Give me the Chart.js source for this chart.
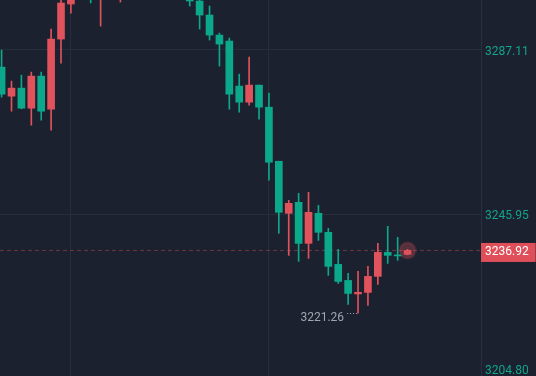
<!DOCTYPE html>
<html>
<head>
<meta charset="utf-8">
<script src="https://cdn.jsdelivr.net/npm/chart.js@4/dist/chart.umd.min.js"></script>
<style>
  html, body { margin: 0; padding: 0; background: #1b212e; overflow: hidden; width: 536px; height: 376px; }
  canvas { display: block; }
</style>
</head>
<body>
<canvas id="c" width="536" height="379"></canvas>
<script>
// ---- data ----
const slots = [-1,0,1,2,3,4,5,6,7,8,9,10,11,12,13,14,15,16,17,18,19,20,21,22,23,24,25,26,27,28,29,30,31,32,33,34,35,36,37,38,39,40];
const opens  = [3282.73,3275.47,3277.48,3272.47,3280.48,3272.22,3289.74,3298.50,3304.20,3311.20,3303.70,3310.40,3305.00,3309.50,3306.30,3310.20,3307.10,3304.80,3306.90,3302.40,3299.25,3295.74,3290.74,3289.24,3277.98,3273.97,3278.23,3272.72,3259.21,3246.20,3248.95,3238.69,3246.20,3241.45,3233.44,3229.43,3226.05,3226.43,3230.44,3236.44,3235.69,3235.94];
const highs  = [3286.98,3279.23,3280.73,3281.48,3281.48,3292.24,3300.60,3307.40,3314.00,3313.80,3312.50,3312.90,3311.80,3311.40,3313.00,3311.70,3308.90,3309.30,3307.80,3303.60,3300.10,3297.99,3291.24,3289.99,3280.98,3285.23,3278.23,3276.23,3259.21,3249.45,3251.20,3251.45,3248.20,3242.45,3237.19,3231.19,3231.69,3232.94,3238.69,3242.95,3240.20,3237.20];
const lows   = [3275.22,3271.72,3272.30,3268.22,3269.47,3266.97,3283.73,3296.24,3302.10,3298.75,3292.99,3303.20,3298.99,3303.80,3304.60,3305.00,3302.60,3303.10,3300.90,3297.99,3292.24,3289.49,3282.98,3272.22,3271.47,3273.22,3269.72,3254.46,3241.20,3235.69,3234.19,3234.94,3239.44,3230.69,3228.68,3223.43,3221.26,3223.18,3228.43,3233.69,3234.44,3235.80];
const closes = [3275.97,3277.48,3272.47,3280.48,3271.72,3289.74,3298.75,3304.50,3311.60,3305.40,3309.80,3306.10,3308.70,3306.30,3310.20,3307.10,3304.80,3306.90,3302.40,3299.25,3295.74,3290.74,3288.49,3275.97,3273.97,3278.23,3272.72,3258.96,3246.45,3248.70,3238.69,3246.45,3241.45,3232.94,3229.18,3226.18,3226.45,3230.44,3236.44,3235.69,3235.55,3236.92];
const yTicks = [3204.80, 3245.95, 3287.11];
const lastPrice = 3236.92;
const lowLabelValue = 3221.26;
const lowLabelSlot = 35;
const xGridSlots = [6, 26];

// ---- styles ----
const RED = '#e0525c';
const GREEN = '#0ca88c';
const GRID = '#252e3b';
const X_MIN = -1.162, X_MAX = 47.42;

const colors = slots.map((s, i) => closes[i] >= opens[i] ? RED : GREEN);
const wickData = slots.map((s, i) => ({ x: s, y: [lows[i], highs[i]] }));
const bodyData = slots.map((s, i) => ({ x: s, y: [opens[i], closes[i]] }));
const lastSlot = slots[slots.length - 1];

Chart.defaults.font.family = 'Roboto, "Noto Sans", sans-serif';
Chart.defaults.font.size = 12;

const lowLabelPlugin = {
  id: 'lowLabel',
  afterDatasetsDraw(chart) {
    const { ctx, scales: { x, y } } = chart;
    const px = x.getPixelForValue(lowLabelSlot);
    const py = y.getPixelForValue(lowLabelValue);
    ctx.save();
    ctx.strokeStyle = '#a0a6b0';
    ctx.lineWidth = 1;
    ctx.setLineDash([1, 2]);
    ctx.beginPath();
    ctx.moveTo(px - 1, Math.round(py) + 0.5);
    ctx.lineTo(px - 12, Math.round(py) + 0.5);
    ctx.stroke();
    ctx.setLineDash([]);
    ctx.fillStyle = '#a0a6b0';
    ctx.font = '12px Roboto, "Noto Sans", sans-serif';
    ctx.textAlign = 'right';
    ctx.textBaseline = 'middle';
    ctx.fillText(lowLabelValue.toFixed(2), px - 14, py + 4.5);
    ctx.restore();
  }
};

new Chart(document.getElementById('c'), {
  type: 'bar',
  data: {
    datasets: [
      {
        type: 'bar', label: 'body', data: bodyData, order: 1,
        backgroundColor: colors, barThickness: 7, grouped: false,
        minBarLength: 1, borderWidth: 0
      },
      {
        type: 'line', label: 'glow', order: 2, showLine: false,
        data: [{ x: lastSlot, y: lastPrice }],
        pointRadius: 8, pointBackgroundColor: 'rgba(224,82,92,0.30)',
        pointBorderColor: 'rgba(224,82,92,0.12)', pointBorderWidth: 3
      },
      {
        type: 'bar', label: 'wick', data: wickData, order: 3,
        backgroundColor: colors, barThickness: 1, grouped: false,
        minBarLength: 1, borderWidth: 0
      },
      {
        type: 'line', label: 'last', order: 4,
        data: [{ x: X_MIN, y: lastPrice }, { x: X_MAX, y: lastPrice }],
        borderColor: 'rgba(224,82,92,0.42)', borderWidth: 1, borderDash: [4, 3],
        pointRadius: 0, fill: false
      }
    ]
  },
  options: {
    responsive: false,
    animation: false,
    devicePixelRatio: 1,
    layout: { autoPadding: false, padding: 0 },
    plugins: { legend: { display: false }, tooltip: { enabled: false } },
    scales: {
      x: {
        type: 'linear', min: X_MIN, max: X_MAX, position: 'bottom',
        offset: false, bounds: 'data',
        afterBuildTicks: (s) => { s.ticks = xGridSlots.map(v => ({ value: v })); },
        afterFit: (s) => { s.height = 0; s.paddingLeft = 0; s.paddingRight = 0; },
        grid: { color: GRID, drawTicks: false, offset: false },
        border: { display: false },
        ticks: { display: false }
      },
      y: {
        type: 'linear', position: 'right', min: yTicks[0], max: 3299.50,
        afterBuildTicks: (s) => {
          s.ticks = [...yTicks, lastPrice].sort((a, b) => a - b).map(v => ({ value: v }));
        },
        afterFit: (s) => { s.width = 55; s.paddingTop = 0; s.paddingBottom = 0; },
        grid: {
          drawTicks: false,
          color: (c) => (c.tick && (c.tick.value === lastPrice || c.tick.value === yTicks[0])) ? 'rgba(0,0,0,0)' : GRID
        },
        border: { display: true, color: '#28313e' },
        ticks: {
          padding: 4,
          labelOffset: 2,
          autoSkip: false,
          font: (c) => (c.tick && c.tick.value === yTicks[0]) ? { size: 12, lineHeight: 1.6 } : { size: 12 },
          color: (c) => (c.tick && c.tick.value === lastPrice) ? '#ffffff' : '#14a38b',
          showLabelBackdrop: (c) => !!(c.tick && c.tick.value === lastPrice),
          backdropColor: '#df4f5a',
          backdropPadding: { left: 4, right: 7, top: 2.3, bottom: 2.3 },
          callback: (v) => v === yTicks[0] ? [v.toFixed(2), ''] : Number(v).toFixed(2)
        }
      }
    }
  },
  plugins: [lowLabelPlugin]
});
</script>
</body>
</html>
